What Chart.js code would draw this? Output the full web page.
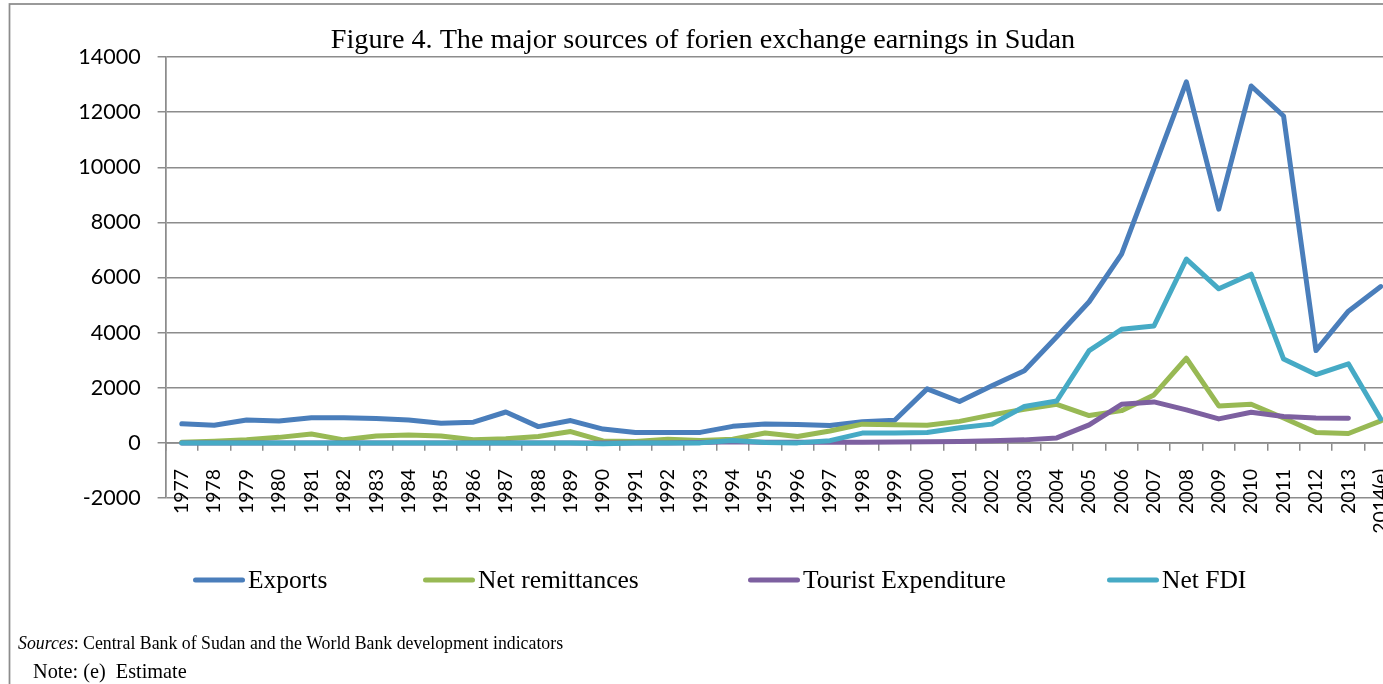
<!DOCTYPE html>
<html>
<head>
<meta charset="utf-8">
<script src="https://cdn.jsdelivr.net/npm/chart.js@4.4.1/dist/chart.umd.min.js"></script>
<style>
  html, body { margin: 0; padding: 0; background: #ffffff; overflow: hidden; width: 1383px; height: 684px; }
  #wrap { position: absolute; left: 0; top: 0; width: 1420px; height: 684px; }
  #c { display: block; }
</style>
</head>
<body>
<div id="wrap"><canvas id="c" width="1420" height="684" style="width:1420px;height:684px;"></canvas></div>
<script>
// ---- data ----
const YEARS = ["1977","1978","1979","1980","1981","1982","1983","1984","1985","1986",
  "1987","1988","1989","1990","1991","1992","1993","1994","1995","1996","1997","1998",
  "1999","2000","2001","2002","2003","2004","2005","2006","2007","2008","2009","2010",
  "2011","2012","2013","2014(e)"];

const EXPORTS = [690, 640, 830, 790, 910, 910, 880, 830, 710, 750,
  1120, 590, 810, 500, 380, 375, 380, 600, 685, 670, 630, 770,
  820, 1960, 1500, 2070, 2620, 3850, 5120, 6850, 9960, 13100, 8480, 12950,
  11860, 3350, 4780, 5670];

const NET_REMITTANCES = [20, 60, 110, 200, 320, 110, 250, 290, 250, 110,
  150, 230, 410, 70, 50, 133, 85, 130, 360, 230, 430, 680,
  660, 640, 780, 1016, 1220, 1400, 990, 1170, 1740, 3070, 1340, 1400,
  900, 380, 340, 800];

const TOURIST_EXPENDITURE = [0, 0, 0, 0, 0, 0, 0, 0, 0, 0,
  0, 0, 0, 0, 0, 0, 10, 40, 20, 20, 25, 25,
  30, 40, 50, 73, 109, 181, 653, 1400, 1487, 1197, 870, 1112,
  955, 907, 894, null];

const NET_FDI = [0, 0, 0, 0, 0, 0, 0, 0, 0, 0,
  0, 0, 0, -30, 0, 0, 0, 85, 12, 0, 80, 355,
  360, 380, 550, 680, 1320, 1520, 3350, 4120, 4240, 6670, 5590, 6120,
  3040, 2480, 2870, 870];

const SERIES_NAMES = ["Exports", "Net remittances", "Tourist Expenditure", "Net FDI"];
const Y_MIN = -2000;
const Y_MAX = 14000;
const Y_STEP = 2000;

const TITLE = "Figure 4. The major sources of forien exchange earnings in Sudan";
const SOURCE_LABEL = "Sources";
const SOURCE_TEXT = ": Central Bank of Sudan and the World Bank development indicators";
const NOTE_TEXT = "Note: (e)  Estimate";

// ---- styling ----
const COLORS = ["#4A7EBB", "#98B954", "#7D60A0", "#46AAC5"];
const GRID = "#8c8c8c";
const SERIF = '"Liberation Serif", "Times New Roman", serif';
const SANS = 'Lato, "Open Sans", sans-serif';

const frameAndNotes = {
  id: 'frameAndNotes',
  beforeDraw(chart) {
    const ctx = chart.ctx;
    ctx.save();
    ctx.strokeStyle = GRID;
    ctx.lineWidth = 1.75;
    ctx.strokeRect(9.5, 4, chart.width + 100, chart.height + 100);
    ctx.restore();
  },
  afterDraw(chart) {
    const ctx = chart.ctx;
    ctx.save();
    // legend (built from the datasets)
    const legendX = [193, 423, 748, 1107];
    const legendY = 580;
    chart.data.datasets.forEach((ds, i) => {
      const x = legendX[i];
      ctx.strokeStyle = ds.borderColor;
      ctx.lineWidth = 5;
      ctx.lineCap = 'round';
      ctx.beginPath();
      ctx.moveTo(x + 2.5, legendY);
      ctx.lineTo(x + 52 - 2.5, legendY);
      ctx.stroke();
      ctx.fillStyle = '#000';
      ctx.font = '25.5px ' + SERIF;
      ctx.textBaseline = 'middle';
      ctx.textAlign = 'left';
      ctx.fillText(ds.label, x + 55, legendY + 1);
    });
    // sources & note
    ctx.fillStyle = '#000';
    ctx.textBaseline = 'alphabetic';
    ctx.textAlign = 'left';
    ctx.font = 'italic 17.8px ' + SERIF;
    ctx.fillText(SOURCE_LABEL, 18, 649);
    const w = ctx.measureText(SOURCE_LABEL).width;
    ctx.font = '17.8px ' + SERIF;
    ctx.fillText(SOURCE_TEXT, 18 + w, 649);
    ctx.font = '20.3px ' + SERIF;
    ctx.fillText(NOTE_TEXT, 33, 678);
    ctx.restore();
  }
};

const seriesData = [EXPORTS, NET_REMITTANCES, TOURIST_EXPENDITURE, NET_FDI];

new Chart(document.getElementById('c'), {
  type: 'line',
  data: {
    labels: YEARS,
    datasets: seriesData.map((d, i) => ({
      label: SERIES_NAMES[i],
      data: d,
      borderColor: COLORS[i],
      backgroundColor: COLORS[i],
      borderWidth: 5,
      pointRadius: 0,
      pointHoverRadius: 0,
      tension: 0,
      fill: false,
      borderJoinStyle: 'round',
      borderCapStyle: 'round',
      order: 4 - i
    }))
  },
  options: {
    responsive: false,
    animation: false,
    events: [],
    layout: { padding: { left: 9, right: 23, top: 0, bottom: 186 } },
    plugins: {
      legend: { display: false },
      tooltip: { enabled: false },
      title: {
        display: true,
        text: TITLE,
        color: '#000',
        font: { family: SERIF, size: 28.2, weight: 'normal', lineHeight: 1.1 },
        padding: { top: 25, bottom: 1 }
      }
    },
    scales: {
      x: {
        type: 'category',
        position: { y: 0 },
        offset: true,
        grid: { offset: true, drawOnChartArea: false, drawTicks: true, tickLength: 7, color: GRID, lineWidth: 1.5 },
        border: { display: true, color: GRID, width: 1.75 },
        ticks: {
          autoSkip: false, maxRotation: 90, minRotation: 90, padding: 19,
          color: '#000', font: { family: SANS, size: 19.5 }
        },
        afterFit(scale) { scale.paddingLeft = 0; scale.paddingRight = 0; }
      },
      y: {
        min: Y_MIN,
        max: Y_MAX,
        grid: { color: GRID, lineWidth: 1.5, tickLength: 8, drawTicks: true },
        border: { display: true, color: GRID, width: 1.75 },
        ticks: {
          stepSize: Y_STEP, padding: 17, color: '#000',
          font: { family: SANS, size: 21.5 },
          callback: v => String(v)
        },
        afterFit(scale) { scale.width = 156.6; }
      }
    }
  },
  plugins: [frameAndNotes]
});
</script>
</body>
</html>
